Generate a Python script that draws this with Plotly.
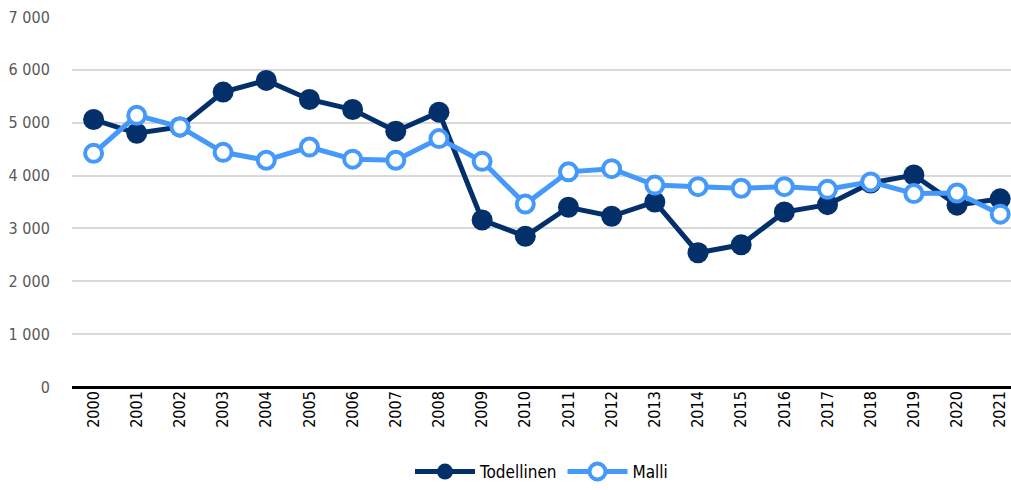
import plotly.graph_objects as go

years = [str(y) for y in range(2000, 2022)]
todellinen = [5060, 4800, 4920, 5580, 5800, 5440, 5250, 4840, 5200, 3160, 2850,
              3400, 3230, 3500, 2540, 2690, 3310, 3450, 3860, 4010, 3440, 3560]
malli = [4420, 5140, 4920, 4440, 4290, 4540, 4310, 4290, 4700, 4270, 3460,
         4070, 4130, 3820, 3790, 3760, 3790, 3740, 3880, 3660, 3670, 3270]
y_ticks = [0, 1000, 2000, 3000, 4000, 5000, 6000, 7000]
y_tick_labels = ["0", "1 000", "2 000", "3 000", "4 000", "5 000", "6 000", "7 000"]

dark = "#03306B"
light = "#4499FA"
font_family = "DejaVu Sans Condensed, Liberation Sans Narrow, sans-serif"

fig = go.Figure()
fig.add_trace(go.Scatter(
    x=years, y=todellinen, name="Todellinen", mode="lines+markers",
    line=dict(color=dark, width=5),
    marker=dict(size=21, color=dark, line=dict(width=0)),
))
fig.add_trace(go.Scatter(
    x=years, y=malli, name="Malli", mode="lines+markers",
    line=dict(color=light, width=5),
    marker=dict(size=17, color="white", line=dict(width=4, color=light)),
))

fig.update_layout(
    width=1011, height=490,
    margin=dict(l=72, r=0, t=17, b=103),
    plot_bgcolor="white", paper_bgcolor="white",
    font=dict(family=font_family, size=16, color="#595959"),
    showlegend=True,
    legend=dict(orientation="h", x=0.5, xanchor="center",
                yref="container", y=-0.012, yanchor="bottom",
                font=dict(size=17, color="#000000"), itemwidth=60,
                bgcolor="rgba(0,0,0,0)"),
    xaxis=dict(type="category", range=[-0.5, 21.25], tickangle=-90,
               showgrid=False, showline=False, ticks="", automargin=False,
               tickfont=dict(size=16, color="#000000"), zeroline=False),
    yaxis=dict(range=[0, 7000], tickvals=y_ticks, ticktext=y_tick_labels,
               showgrid=True, gridcolor="#D9D9D9", gridwidth=1.5, automargin=False,
               zeroline=True, zerolinecolor="#000000", zerolinewidth=3,
               showline=False, ticks="outside", ticklen=18, tickcolor="white",
               tickfont=dict(size=16, color="#595959")),
)

page_fix = (
    "var s='margin:0;padding:0;overflow:hidden';"
    "document.documentElement.style.cssText=s;"
    "document.body.style.cssText=s;"
)
fig.write_html("out.html", config={"displayModeBar": False}, post_script=page_fix)
